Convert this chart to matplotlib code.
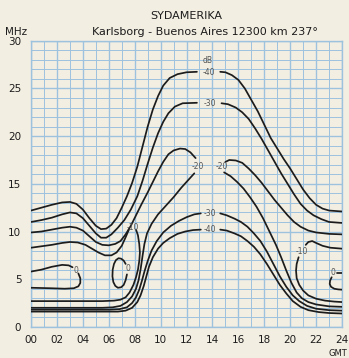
import matplotlib
matplotlib.use('Agg')
import matplotlib.pyplot as plt
from matplotlib.ticker import MultipleLocator

# contour segments, (hour GMT, MHz); split where a dB label sits on the line
db40_upper_l = [(0, 12.2), (0.8, 12.5), (1.6, 12.8), (2.4, 13.05), (3.0, 13.1), (3.5, 12.9),
                (4.0, 12.3), (4.5, 11.4), (5.0, 10.6), (5.4, 10.25), (5.8, 10.3), (6.2, 10.7),
                (6.6, 11.4), (7.0, 12.5), (7.4, 13.7), (7.8, 15.1), (8.2, 16.8), (8.6, 18.9),
                (9.0, 21.0), (9.4, 22.8), (9.8, 24.2), (10.2, 25.3), (10.7, 26.1), (11.3, 26.5),
                (12.0, 26.7), (12.8, 26.75)]
db40_upper_r = [(14.6, 26.75), (15.0, 26.7), (15.5, 26.4), (16.0, 25.9), (16.5, 25.0), (17.0, 23.8),
                (17.5, 22.6), (18.0, 21.2), (18.5, 19.8), (19.0, 18.7), (19.5, 17.6), (20.0, 16.6),
                (20.5, 15.5), (21.0, 14.4), (21.5, 13.5), (22.0, 12.8), (22.5, 12.4), (23.0, 12.2),
                (24, 12.1)]
db30_upper_l = [(0, 11.0), (0.8, 11.2), (1.6, 11.45), (2.4, 11.8), (3.0, 12.0), (3.5, 11.9),
                (4.0, 11.4), (4.5, 10.6), (5.0, 9.8), (5.4, 9.35), (5.8, 9.35), (6.2, 9.7),
                (6.7, 10.4), (7.2, 11.2), (7.7, 12.3), (8.2, 13.7), (8.6, 15.3), (9.0, 17.1),
                (9.4, 18.8), (9.8, 20.3), (10.2, 21.5), (10.6, 22.4), (11.1, 23.1), (11.7, 23.45),
                (12.8, 23.5)]
db30_upper_r = [(14.7, 23.45), (15.2, 23.35), (15.8, 23.0), (16.3, 22.5), (16.8, 21.8), (17.3, 20.8),
                (17.8, 19.7), (18.3, 18.5), (18.8, 17.3), (19.3, 16.1), (19.8, 15.0), (20.3, 13.9),
                (20.8, 12.9), (21.3, 12.2), (21.8, 11.7), (22.4, 11.3), (23.0, 11.0), (24, 10.9)]
db20_upper_l = [(0, 9.9), (0.8, 10.0), (1.6, 10.2), (2.4, 10.4), (3.0, 10.5), (3.5, 10.4),
                (4.0, 10.1), (4.5, 9.5), (5.0, 8.9), (5.5, 8.6), (6.0, 8.55), (6.5, 8.7), (6.9, 9.0),
                (7.3, 9.7), (7.7, 10.6), (8.1, 11.7), (8.5, 12.8), (9.0, 14.1), (9.4, 15.2),
                (9.8, 16.3), (10.2, 17.3), (10.6, 18.1), (11.0, 18.5), (11.5, 18.7), (11.9, 18.65),
                (12.3, 18.3), (12.7, 17.7)]
db20_upper_r = [(15.0, 17.3), (15.3, 17.5), (15.8, 17.45), (16.3, 17.2), (16.8, 16.6), (17.3, 15.9),
                (17.8, 15.1), (18.3, 14.2), (18.8, 13.3), (19.3, 12.5), (19.8, 11.7), (20.3, 11.0),
                (20.8, 10.5), (21.4, 10.1), (22.0, 9.9), (23.0, 9.75), (24, 9.7)]
db10_upper_l = [(0, 8.3), (0.8, 8.45), (1.6, 8.6), (2.4, 8.8), (3.0, 8.9), (3.6, 8.85), (4.2, 8.6),
                (4.7, 8.2), (5.2, 7.8), (5.7, 7.5), (6.2, 7.5), (6.6, 7.8), (7.0, 8.5), (7.3, 9.4),
                (7.55, 10.2)]

db10_lower_l = [(8.1, 10.2), (8.25, 9.6), (8.35, 8.7), (8.4, 7.8), (8.35, 6.9), (8.25, 6.0),
                (8.1, 5.2), (7.9, 4.4), (7.6, 3.6), (7.3, 3.1), (6.9, 2.85), (6.4, 2.75), (5.5, 2.7),
                (0, 2.7)]
db20_lower_l = [(12.6, 16.1), (12.2, 15.5), (11.6, 14.6), (11.0, 13.6), (10.4, 12.7), (9.8, 11.8),
                (9.3, 10.8), (8.95, 9.8), (8.75, 8.7), (8.6, 7.4), (8.45, 6.0), (8.3, 4.9),
                (8.1, 4.0), (7.8, 3.2), (7.4, 2.6), (6.9, 2.2), (6.3, 2.05), (5.5, 2.0), (0, 2.0)]
db30_lower_l = [(13.1, 11.9), (12.6, 11.8), (12.0, 11.5), (11.4, 11.1), (10.8, 10.6), (10.2, 9.9),
                (9.7, 9.0), (9.3, 8.0), (9.0, 6.9), (8.75, 5.8), (8.55, 4.8), (8.35, 3.9),
                (8.1, 3.1), (7.8, 2.5), (7.4, 2.05), (6.8, 1.85), (6.0, 1.8), (0, 1.8)]
db40_lower_l = [(13.1, 10.2), (12.5, 10.15), (11.9, 10.0), (11.3, 9.75), (10.7, 9.3), (10.2, 8.8),
                (9.8, 8.2), (9.4, 7.3), (9.1, 6.3), (8.9, 5.3), (8.7, 4.3), (8.45, 3.3), (8.2, 2.6),
                (7.8, 2.0), (7.3, 1.7), (6.7, 1.6), (0, 1.6)]

db20_lower_r = [(14.9, 16.2), (15.4, 15.8), (15.9, 15.2), (16.4, 14.5), (16.9, 13.6), (17.4, 12.6),
                (17.9, 11.4), (18.4, 10.0), (18.9, 8.6), (19.3, 7.3), (19.7, 5.9), (20.1, 4.6),
                (20.5, 3.6), (20.9, 3.0), (21.4, 2.6), (22.0, 2.35), (23.0, 2.15), (24, 2.1)]
db30_lower_r = [(14.6, 11.9), (15.1, 11.7), (15.7, 11.35), (16.2, 11.0), (16.7, 10.5), (17.2, 9.8),
                (17.7, 9.0), (18.2, 7.9), (18.7, 6.6), (19.2, 5.3), (19.7, 4.2), (20.2, 3.3),
                (20.7, 2.7), (21.3, 2.2), (22.0, 1.9), (23.0, 1.75), (24, 1.7)]
db40_lower_r = [(14.6, 10.2), (15.1, 10.1), (15.7, 9.8), (16.2, 9.5), (16.7, 9.0), (17.2, 8.4),
                (17.7, 7.6), (18.2, 6.6), (18.7, 5.5), (19.2, 4.4), (19.7, 3.5), (20.2, 2.7),
                (20.8, 2.1), (21.4, 1.75), (22.2, 1.55), (23.0, 1.45), (24, 1.4)]
db10_right_up = [(21.2, 8.6), (21.4, 8.9), (21.7, 9.0), (22.0, 8.8), (22.5, 8.5), (23.1, 8.3), (24, 8.2)]
db10_right_lo = [(20.65, 7.3), (20.5, 6.6), (20.45, 5.9), (20.5, 5.1), (20.7, 4.4), (21.0, 3.8),
                 (21.4, 3.3), (22.0, 2.95), (22.7, 2.75), (23.4, 2.65), (24, 2.6)]

db0_left_a = [(0, 5.8), (0.8, 6.0), (1.6, 6.3), (2.4, 6.5), (2.9, 6.45), (3.2, 6.25)]
db0_left_b = [(3.65, 5.6), (3.8, 5.1), (3.8, 4.6), (3.65, 4.25), (3.3, 4.05), (2.6, 4.0), (1.5, 4.05),
              (0, 4.1)]
db0_oval = [(7.3, 6.6), (7.15, 6.95), (6.95, 7.15), (6.75, 7.2), (6.55, 7.0), (6.4, 6.6), (6.3, 6.0),
            (6.28, 5.3), (6.35, 4.7), (6.5, 4.3), (6.7, 4.1), (6.95, 4.15), (7.15, 4.4), (7.3, 4.9),
            (7.4, 5.5)]
db0_right_a = [(23.6, 5.7), (24, 5.7)]
db0_right_b = [(23.2, 5.2), (23.08, 4.85), (23.05, 4.5), (23.15, 4.2), (23.4, 4.0), (23.7, 3.93),
               (24, 3.9)]

segments = [db40_upper_l, db40_upper_r, db30_upper_l, db30_upper_r, db20_upper_l, db20_upper_r,
            db10_upper_l, db10_lower_l, db20_lower_l, db30_lower_l, db40_lower_l,
            db20_lower_r, db30_lower_r, db40_lower_r, db10_right_up, db10_right_lo,
            db0_left_a, db0_left_b, db0_oval, db0_right_a, db0_right_b]

# dB labels: (hour, MHz, text)
db_labels = [(13.7, 26.7, '-40'), (13.8, 23.4, '-30'), (12.85, 16.8, '-20'), (14.75, 16.8, '-20'),
             (13.8, 11.9, '-30'), (13.8, 10.2, '-40'), (7.85, 10.4, '-10'), (20.9, 7.9, '-10'),
             (3.45, 5.95, '0'), (7.45, 6.1, '0'), (23.3, 5.7, '0')]

hour_ticks = list(range(0, 25, 2))
hour_labels = ['%02d' % h for h in hour_ticks]
mhz_ticks = [0, 5, 10, 15, 20, 25, 30]

PAPER = '#f3eee2'
GRID = '#9dc2de'
INK = '#1c1c1c'

fig = plt.figure(figsize=(3.49, 3.58), dpi=100, facecolor=PAPER)
ax = fig.add_axes([0.089, 0.087, 0.891, 0.799], facecolor=PAPER)

for seg in segments:
    ax.plot([p[0] for p in seg], [p[1] for p in seg], color=INK, lw=1.25,
            solid_capstyle='round', solid_joinstyle='round', zorder=3)

for h, f, t in db_labels:
    ax.text(h, f, t, fontsize=5.5, color='#555555', ha='center', va='center', zorder=4)
ax.text(13.6, 27.9, 'dB', fontsize=5.5, color='#555555', ha='center', va='center', zorder=4)

ax.set_xlim(0, 24)
ax.set_ylim(0, 30)
ax.xaxis.set_minor_locator(MultipleLocator(1))
ax.yaxis.set_minor_locator(MultipleLocator(1))
ax.set_xticks(hour_ticks)
ax.set_xticklabels(hour_labels)
ax.set_yticks(mhz_ticks)
ax.grid(which='minor', color=GRID, lw=0.7)
ax.grid(which='major', color=GRID, lw=1.0)
ax.set_axisbelow(True)
ax.tick_params(which='both', length=0, labelsize=7.5, colors=INK)
ax.tick_params(axis='x', pad=6)
ax.tick_params(axis='y', pad=7)
for sp in ax.spines.values():
    sp.set_color(GRID)
    sp.set_linewidth(1.0)

fig.text(0.535, 0.955, 'SYDAMERIKA', fontsize=8, ha='center', va='center', color=INK)
fig.text(0.587, 0.912, 'Karlsborg - Buenos Aires 12300 km 237°', fontsize=8,
         ha='center', va='center', color=INK)
fig.text(0.045, 0.912, 'MHz', fontsize=7.5, ha='center', va='center', color=INK)
fig.text(0.968, 0.012, 'GMT', fontsize=6, ha='center', va='center', color=INK)

fig.savefig('out.png', dpi=100, facecolor=PAPER)
